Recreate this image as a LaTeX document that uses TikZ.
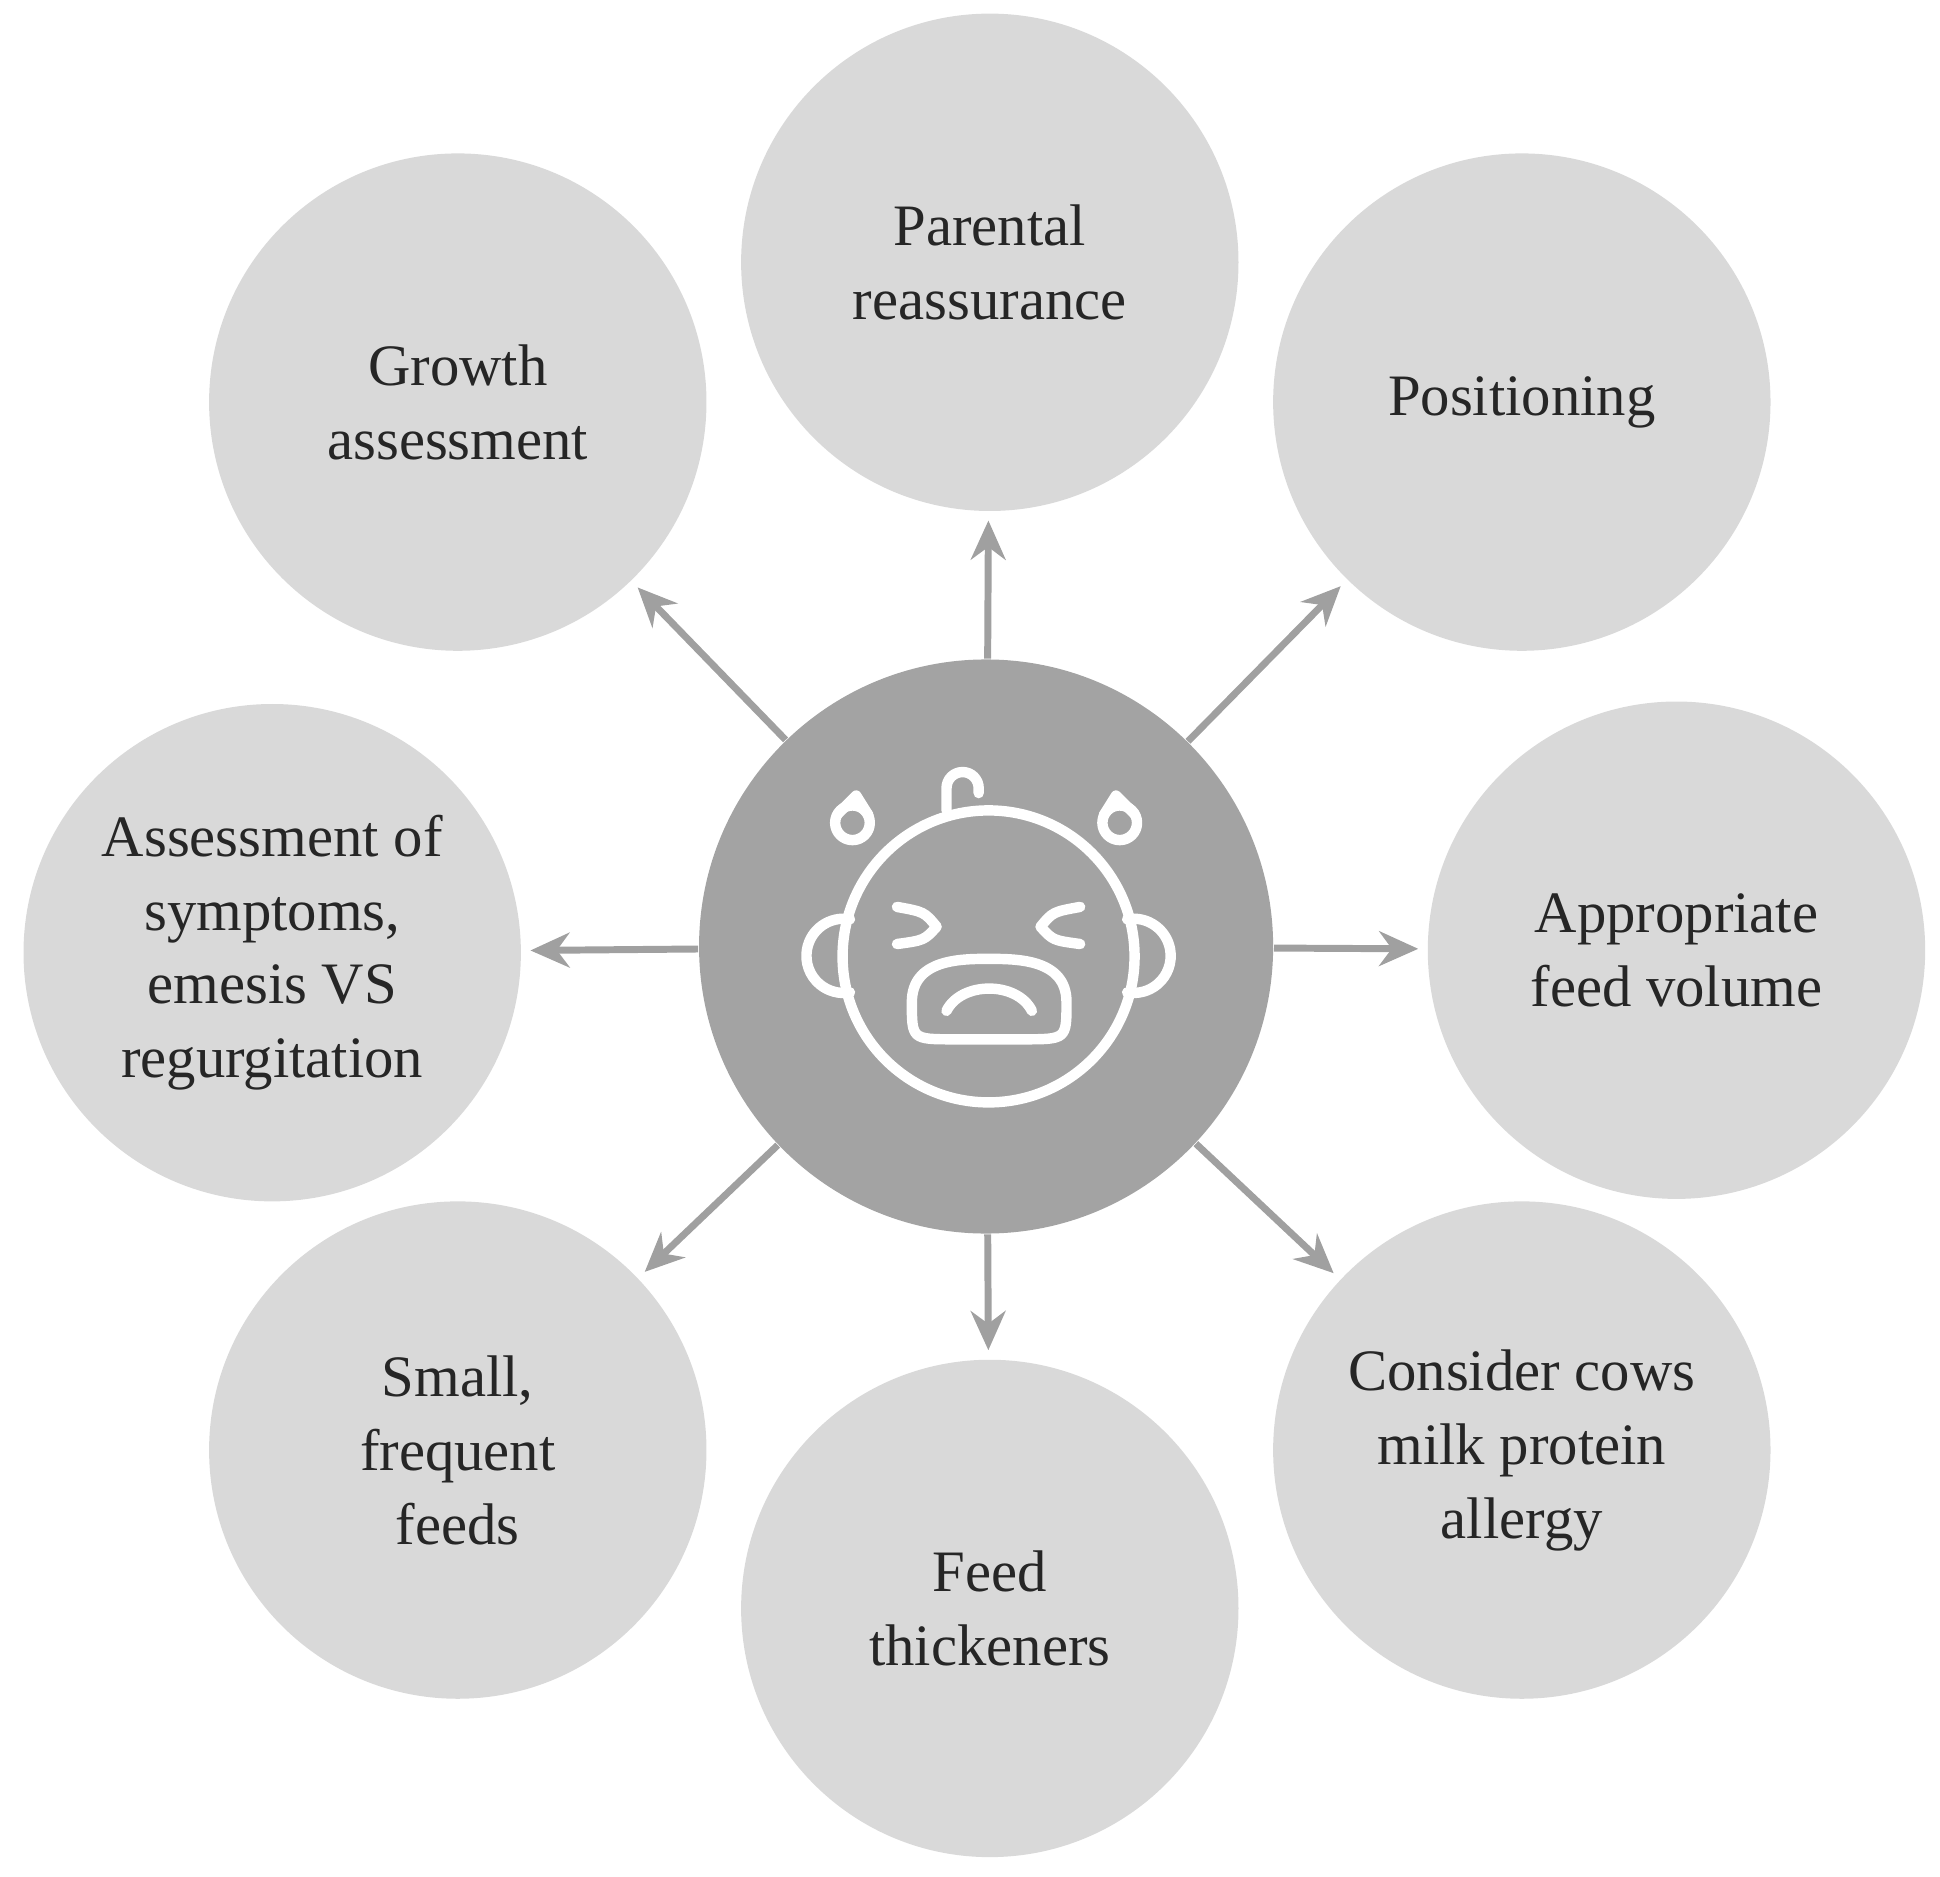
\documentclass[tikz,border=0pt]{standalone}
\usepackage{fontspec}
\setmainfont{Liberation Serif}
\usetikzlibrary{arrows.meta}
\definecolor{outer}{HTML}{D9D9D9}
\definecolor{inner}{HTML}{A3A3A3}
\definecolor{arr}{HTML}{A0A0A0}
\tikzset{
  leaf/.style={circle,fill=outer,minimum size=4.02cm,inner sep=0pt,align=center,font=\fontsize{13.5}{17}\selectfont,text=black!85},
  hub/.style={circle,fill=inner,minimum size=4.64cm,inner sep=0pt},
  conn/.style={draw=arr,line width=1.6pt,-{Stealth[length=9pt,width=8pt]},shorten >=2pt},
  face/.style={draw=white,line width=2.4pt,line cap=round,line join=round}
}
\begin{document}
\begin{tikzpicture}
\useasboundingbox (0,0) rectangle (15.68,15.17);
\node[hub] (c) at (7.97,7.52) {};
\node[leaf] (p) at (8.00,13.05) {Parental\\reassurance};
\node[leaf] (g) at (3.70,11.92) {Growth\\assessment};
\node[leaf] (pos) at (12.30,11.92) {Positioning};
\node[leaf] (a) at (2.20,7.47) {Assessment of\\symptoms,\\emesis VS\\regurgitation};
\node[leaf] (v) at (13.55,7.49) {Appropriate\\feed volume};
\node[leaf] (s) at (3.70,3.45) {Small,\\frequent\\feeds};
\node[leaf] (f) at (8.00,2.17) {Feed\\thickeners};
\node[leaf] (m) at (12.30,3.45) {Consider cows\\milk protein\\allergy};
\foreach \t in {p,g,pos,a,v,s,f,m} \draw[conn] (c) -- (\t);
\begin{scope}[shift={(c.center)}]
  % ears
  \draw[face] (-1.10,0.22) arc (80:280:0.30);
  \draw[face] (1.14,0.22) arc (100:-100:0.30);
  % head
  \draw[face] (0.02,-0.08) circle (1.18);
  % hair
  \draw[face] (-0.32,1.10) -- (-0.32,1.28) arc (180:0:0.13) -- (-0.06,1.24);
  % drops
  \draw[face] (-1.08,1.0) circle (0.14);
  \draw[face] (1.08,1.0) circle (0.14);
  \draw[face] (-1.20,1.07) -- (-1.05,1.22) -- (-0.95,1.06);
  \draw[face] (1.20,1.07) -- (1.05,1.22) -- (0.95,1.06);
  % eyes
  \draw[face] (-0.72,0.32) .. controls (-0.5,0.28) .. (-0.40,0.16) .. controls (-0.5,0.05) .. (-0.72,0.02);
  \draw[face] (0.76,0.32) .. controls (0.54,0.28) .. (0.44,0.16) .. controls (0.54,0.05) .. (0.76,0.02);
  % mouth
  \draw[face] (-0.6,-0.45) .. controls (-0.6,-0.1) and (-0.2,-0.1) .. (0.02,-0.1) .. controls (0.25,-0.1) and (0.65,-0.1) .. (0.65,-0.45)
     .. controls (0.65,-0.75) .. (0.3,-0.75) -- (-0.26,-0.75) .. controls (-0.6,-0.75) .. (-0.6,-0.45);
  \draw[face] (-0.32,-0.52) .. controls (-0.2,-0.28) and (0.25,-0.28) .. (0.37,-0.52);
\end{scope}
\end{tikzpicture}
\end{document}
